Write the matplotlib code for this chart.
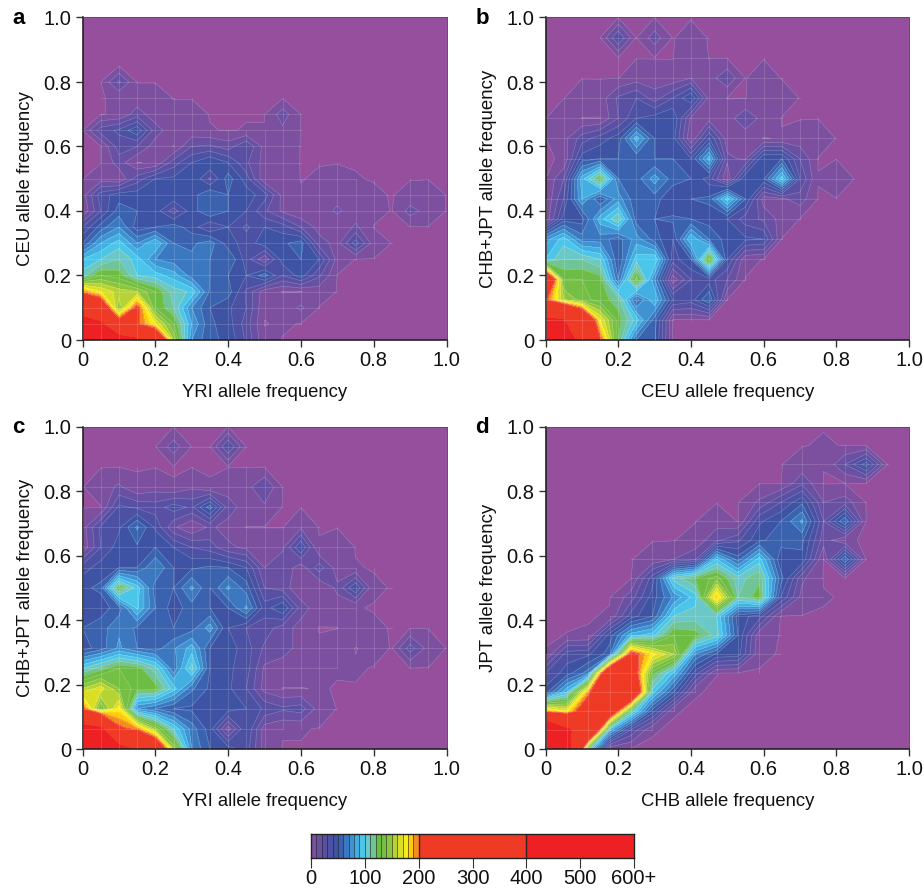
import matplotlib
matplotlib.use("Agg")
from matplotlib import pyplot as plt
import numpy as np

plt.rcParams['font.family'] = ['Liberation Sans', 'DejaVu Sans']

W, H = 924, 888

# SNP counts, rows from y=0 upwards, missing cells at the right are 0
counts_a = [
    [650, 560, 470, 420, 280, 150, 70, 52, 48, 28, 2],
    [500, 420, 230, 205, 170, 130, 80, 52, 45, 25, 0, 1],
    [280, 250, 140, 210, 130, 110, 70, 50, 42, 30, 1, 3, 12],
    [195, 170, 155, 150, 130, 105, 98, 58, 55, 28, 4, 0, 0, 4],
    [105, 130, 125, 100, 95, 85, 65, 60, 50, 40, 55, 30, 45, 22],
    [90, 100, 110, 95, 70, 65, 62, 60, 60, 35, 12, 45, 50, 40, 6],
    [50, 80, 95, 70, 90, 60, 58, 65, 45, 35, 45, 48, 55, 15, 6, 35, 5],
    [30, 55, 70, 45, 50, 55, 45, 30, 40, 28, 40, 35, 20, 6, 1, 12],
    [1, 30, 55, 50, 45, 25, 45, 60, 50, 40, 22, 8, 1, 4, 12, 4, 2, 0, 14, 6],
    [5, 35, 45, 45, 50, 50, 45, 60, 50, 45, 35, 6, 1, 5, 6, 5, 1, 0, 2, 4],
    [0, 5, 1, 25, 40, 42, 50, 28, 55, 35, 2, 6, 0, 1, 3, 0.5],
    [0, 0, 15, 0, 1, 25, 40, 50, 40, 22, 6, 4],
    [0, 0, 25, 20, 5, 0, 20, 22, 15, 30, 6, 5],
    [0, 25, 32, 48, 15, 3, 3, 0.5, 0, 0.5, 0.5, 8],
    [0, 0, 1, 15, 4, 3, 3, 0, 0, 0, 0, 15],
    [0, 0, 1, 4, 4],
    [0, 0, 22],
]
counts_b = [
    [650, 480, 350, 205, 120, 60, 52],
    [420, 400, 280, 170, 125, 95, 55],
    [205, 150, 135, 125, 115, 55, 90, 40, 35, 60],
    [280, 130, 130, 125, 60, 135, 70, 3, 30, 35, 20],
    [90, 110, 110, 100, 50, 95, 100, 35, 50, 135, 40, 2],
    [75, 95, 65, 65, 55, 75, 55, 40, 90, 60, 45, 42, 40],
    [1, 45, 45, 85, 110, 55, 50, 52, 50, 45, 40, 25, 18, 6],
    [0, 30, 80, 50, 75, 52, 55, 40, 50, 52, 95, 50, 5, 8, 15],
    [0, 20, 85, 125, 60, 55, 75, 55, 50, 35, 2, 50, 48, 95, 30, 0.4, 8],
    [0, 0.5, 45, 50, 50, 52, 50, 50, 40, 85, 12, 8, 50, 50, 20],
    [0, 6, 25, 35, 45, 85, 50, 45, 1, 40, 5, 3, 0, 0.6, 3, 5],
    [0, 8, 0, 0, 20, 40, 45, 50, 8, 6, 5, 18, 6],
    [0, 0, 5, 4, 22, 30, 15, 30, 50, 6, 0, 0, 6, 4],
    [0, 0, 0, 0, 0, 5, 4, 3, 10, 5, 18, 0, 3],
    [0, 0, 0, 0, 0, 0, 0, 0, 8],
    [0, 0, 0, 0, 30, 0, 15, 0, 2],
]
counts_c = [
    [650, 560, 450, 380, 270, 150, 70, 50, 45, 35, 5],
    [450, 420, 205, 195, 145, 100, 65, 45, 5, 40, 5, 0.6, 0.6],
    [205, 130, 175, 70, 60, 50, 48, 48, 45, 40, 28, 22, 25, 5],
    [150, 165, 140, 125, 125, 95, 62, 48, 42, 30, 6, 0, 0, 0.6],
    [100, 115, 130, 125, 105, 62, 105, 50, 42, 35, 8, 4, 4, 6, 0.6, 0.8],
    [45, 55, 72, 60, 55, 68, 85, 50, 45, 35, 18, 15, 6, 1, 6, 0, 2, 0, 25, 6],
    [50, 55, 68, 58, 60, 50, 55, 75, 40, 30, 25, 15, 6, 0, 0, 6, 1],
    [40, 45, 55, 92, 60, 45, 55, 50, 50, 72, 35, 50, 15, 4, 6, 0.5],
    [48, 52, 125, 95, 55, 50, 72, 50, 72, 55, 20, 15, 2, 1, 12, 40, 1],
    [35, 45, 50, 50, 70, 50, 48, 52, 50, 40, 10, 18, 4, 25, 5, 0.5],
    [2, 30, 45, 48, 50, 40, 30, 25, 12, 8, 8, 8, 40, 0.6, 6],
    [5, 32, 38, 62, 38, 12, 1, 12, 6, 0, 0, 0, 8],
    [0, 0, 32, 28, 25, 35, 28, 55, 15, 5, 8],
    [0, 4, 12, 1, 5, 0.5, 8, 0.5, 5, 6, 20],
    [],
    [0, 0, 0, 0, 0, 15, 0, 0, 30],
]
counts_d = [
    [650, 450, 110],
    [620, 420, 320, 85, 28, 0.4],
    [190, 170, 240, 260, 110, 45, 0.4],
    [45, 90, 190, 300, 290, 95, 50, 0.4],
    [30, 45, 65, 280, 235, 125, 88, 35, 0.3],
    [0.4, 35, 38, 55, 215, 175, 150, 70, 48, 45, 1],
    [0, 0.3, 0.6, 45, 85, 95, 130, 125, 105, 50, 3],
    [0, 0, 0, 0.6, 35, 50, 100, 105, 100, 45, 35],
    [0, 0, 0, 0, 15, 45, 72, 95, 185, 110, 125, 40, 6, 0.5],
    [0, 0, 0, 0, 0, 35, 105, 120, 135, 105, 118, 55, 12],
    [0, 0, 0, 0, 0, 3, 10, 18, 90, 55, 95, 42, 48, 0, 60],
    [0, 0, 0, 0, 0, 0, 0, 3, 18, 28, 48, 55, 52, 15, 0.6],
    [0, 0, 0, 0, 0, 0, 0, 0, 5, 0, 38, 50, 72, 20, 60],
    [0, 0, 0, 0, 0, 0, 0, 0, 0, 0, 12, 30, 48, 10, 15],
    [0, 0, 0, 0, 0, 0, 0, 0, 0, 0, 0, 0, 18],
    [0, 0, 0, 0, 0, 0, 0, 0, 0, 0, 0, 0, 3, 0.4, 20, 45],
    [0, 0, 0, 0, 0, 0, 0, 0, 0, 0, 0, 0, 0, 0.8],
]

levels = [-1, 0.25] + list(range(10, 201, 10)) + [400, 600]
bar_edges = [0] + list(range(10, 201, 10)) + [400, 600]
background = "#964f9c"
band_colors = [
    "#7d4f9f", "#6a50a2", "#5a50a3", "#4c51a4", "#3f53a4", "#3a62ae", "#3c78bf", "#3f93d3",
    "#43aee1", "#4cc5ea", "#6bc8c8", "#70c598", "#6dbd45", "#74bf44", "#8cc63f",
    "#b5d334", "#dadf26", "#f7ec13", "#fecb0a", "#f58a1f", "#ef3b26", "#ed2024",
]
bar_ticks = [0, 100, 200, 300, 400, 500, 600]
bar_tick_labels = ["0", "100", "200", "300", "400", "500", "600+"]
tick_vals = [0, 0.2, 0.4, 0.6, 0.8, 1.0]
tick_labels = ["0", "0.2", "0.4", "0.6", "0.8", "1.0"]


def to_grid(rows, nx, ny):
    grid = np.zeros((ny, nx))
    for j, row in enumerate(rows):
        grid[j, :len(row)] = row
    return grid


def mesh_lines(ax, x, y, z):
    # the light mesh only spans the occupied part of each row and column
    for j in range(len(y)):
        nz = np.nonzero(z[j] >= 1)[0]
        if len(nz):
            x0, x1 = x[max(nz[0] - 1, 0)], x[min(nz[-1] + 1, len(x) - 1)]
            ax.plot([x0, x1], [y[j], y[j]], color="white", lw=0.5, alpha=0.2, zorder=3)
    for i in range(len(x)):
        nz = np.nonzero(z[:, i] >= 1)[0]
        if len(nz):
            y0, y1 = y[max(nz[0] - 1, 0)], y[min(nz[-1] + 1, len(y) - 1)]
            ax.plot([x[i], x[i]], [y0, y1], color="white", lw=0.5, alpha=0.2, zorder=3)


def panel(fig, box, rows, nx, ny, letter, xlabel, ylabel):
    left, top, right, bottom = box
    ax = fig.add_axes([left / W, 1 - bottom / H, (right - left) / W, (bottom - top) / H])
    ax.set_facecolor(background)
    x = np.linspace(0, 1, nx)
    y = np.linspace(0, 1, ny)
    z = to_grid(rows, nx, ny)
    ax.contourf(x, y, np.clip(z, 0, 599), levels=levels, colors=[background] + band_colors)
    ax.contour(x, y, np.clip(z, 0, 599), levels=levels[1:22], colors="white", linewidths=0.4, alpha=0.3)
    mesh_lines(ax, x, y, z)
    ax.set_xlim(0, 1)
    ax.set_ylim(0, 1)
    ax.set_xticks(tick_vals, tick_labels)
    ax.set_yticks(tick_vals, tick_labels)
    ax.tick_params(length=5, width=1, color="#333333", labelsize=14.5, pad=3, labelcolor="#111111")
    ax.set_xlabel(xlabel, fontsize=13.3, color="#111111", labelpad=10)
    ax.set_ylabel(ylabel, fontsize=13.4, color="#111111", labelpad=7)
    for side in ["left", "bottom"]:
        ax.spines[side].set_linewidth(1.2)
        ax.spines[side].set_color("#222222")
    for side in ["top", "right"]:
        ax.spines[side].set_linewidth(0.7)
        ax.spines[side].set_color("#555555")
    fig.text((left - 70) / W, 1 - (top + 1) / H, letter, fontsize=16, fontweight="bold", va="center", ha="left")
    return ax


fig = plt.figure(figsize=(W / 100, H / 100), dpi=100)

panel(fig, (82.5, 17.5, 446.5, 340), counts_a, 21, 21, "a", "YRI allele frequency", "CEU allele frequency")
panel(fig, (545.5, 17.5, 909, 340), counts_b, 21, 17, "b", "CEU allele frequency", "CHB+JPT allele frequency")
panel(fig, (82.5, 426.5, 446.5, 749), counts_c, 21, 17, "c", "YRI allele frequency", "CHB+JPT allele frequency")
panel(fig, (545.5, 426.5, 909, 749), counts_d, 18, 18, "d", "CHB allele frequency", "JPT allele frequency")

# colour key
cax = fig.add_axes([311 / W, 1 - 858 / H, 323 / W, 24 / H])
vals = np.array(bar_edges[:-1]).reshape(1, -1)
cax.pcolormesh(bar_edges, [0, 1], vals, cmap=matplotlib.colors.ListedColormap(band_colors),
               norm=matplotlib.colors.BoundaryNorm(bar_edges, len(band_colors)))
for edge in bar_edges[1:-1]:
    cax.axvline(edge, color="#222222", lw=1.0 if edge >= 200 else 0.6, alpha=0.9 if edge >= 200 else 0.7)
cax.set_xlim(0, 600)
cax.set_ylim(0, 1)
cax.set_yticks([])
cax.set_xticks(bar_ticks, bar_tick_labels)
cax.tick_params(length=7, width=0.8, color="#333333", labelsize=14.5, pad=1, labelcolor="#111111")
for spine in cax.spines.values():
    spine.set_linewidth(1.0)
    spine.set_color("#222222")

fig.savefig("out.png", dpi=100)
